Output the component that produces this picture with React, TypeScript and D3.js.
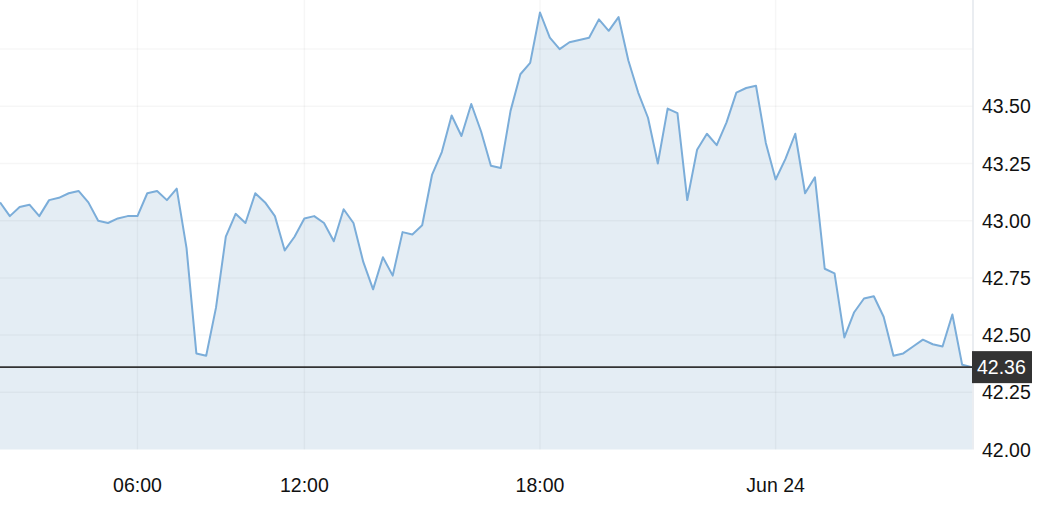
import React from "react";
import * as d3 from "d3";

const prices: number[] = [
  43.08, 43.02, 43.06, 43.07, 43.02, 43.09, 43.1, 43.12, 43.13, 43.08,
  43.0, 42.99, 43.01, 43.02, 43.02, 43.12, 43.13, 43.09, 43.14, 42.88,
  42.42, 42.41, 42.62, 42.93, 43.03, 42.99, 43.12, 43.08, 43.02, 42.87,
  42.93, 43.01, 43.02, 42.99, 42.91, 43.05, 42.99, 42.82, 42.7, 42.84,
  42.76, 42.95, 42.94, 42.98, 43.2, 43.3, 43.46, 43.37, 43.51, 43.39,
  43.24, 43.23, 43.48, 43.64, 43.69, 43.91, 43.8, 43.75, 43.78, 43.79,
  43.8, 43.88, 43.83, 43.89, 43.7, 43.56, 43.45, 43.25, 43.49, 43.47,
  43.09, 43.31, 43.38, 43.33, 43.43, 43.56, 43.58, 43.59, 43.34, 43.18,
  43.27, 43.38, 43.12, 43.19, 42.79, 42.77, 42.49, 42.6, 42.66, 42.67,
  42.58, 42.41, 42.42, 42.45, 42.48, 42.46, 42.45, 42.59, 42.37, 42.36,
];

const timeTickIndex: number[] = [14, 31, 55, 79];
const timeTickLabels: string[] = ["06:00", "12:00", "18:00", "Jun 24"];
const priceTicks: number[] = [42.0, 42.25, 42.5, 42.75, 43.0, 43.25, 43.5];
const gridPrices: number[] = [42.25, 42.5, 42.75, 43.0, 43.25, 43.5, 43.75];
const lastPrice = 42.36;

const W = 1058;
const H = 514;
const plotRight = 973;
const plotBottom = 449.5;

export default function App() {
  const x = d3.scaleLinear().domain([0, prices.length - 1]).range([0, 972]);
  const y = d3.scaleLinear().domain([42, 44]).range([plotBottom, plotBottom - 457.6]);

  const line = d3
    .line<number>()
    .x((_, i) => x(i))
    .y((d) => y(d));
  const area = d3
    .area<number>()
    .x((_, i) => x(i))
    .y0(plotBottom)
    .y1((d) => y(d));

  const font = "'Liberation Sans', Arial, Helvetica, sans-serif";

  return (
    <svg
      width={W}
      height={H}
      style={{ position: "absolute", left: 0, top: 0, background: "#fff" }}
    >
      <path d={area(prices) || ""} fill="#e4edf4" />
      {gridPrices.map((p) => (
        <line
          key={"h" + p}
          x1={0}
          x2={plotRight}
          y1={y(p)}
          y2={y(p)}
          stroke="rgba(0,0,0,0.035)"
          strokeWidth={1.5}
        />
      ))}
      {timeTickIndex.map((t) => (
        <line
          key={"v" + t}
          x1={x(t)}
          x2={x(t)}
          y1={0}
          y2={plotBottom}
          stroke="rgba(0,0,0,0.035)"
          strokeWidth={1.5}
        />
      ))}
      <path
        d={line(prices) || ""}
        fill="none"
        stroke="#7badd9"
        strokeWidth={2}
        strokeLinejoin="round"
      />
      <line
        x1={plotRight}
        x2={plotRight}
        y1={0}
        y2={plotBottom}
        stroke="#e3e7ed"
        strokeWidth={1.5}
      />
      <line
        x1={0}
        x2={plotRight}
        y1={y(lastPrice)}
        y2={y(lastPrice)}
        stroke="#333"
        strokeWidth={1.6}
      />
      {priceTicks.map((p) => (
        <text
          key={"t" + p}
          x={982}
          y={y(p)}
          dy="0.36em"
          fontFamily={font}
          fontSize={19.5}
          fill="#111"
        >
          {p.toFixed(2)}
        </text>
      ))}
      {timeTickIndex.map((t, i) => (
        <text
          key={"x" + t}
          x={x(t)}
          y={492}
          textAnchor="middle"
          fontFamily={font}
          fontSize={19.5}
          fill="#111"
        >
          {timeTickLabels[i]}
        </text>
      ))}
      <rect
        x={972}
        y={y(lastPrice) - 16}
        width={60}
        height={32}
        fill="#333"
      />
      <text
        x={977}
        y={y(lastPrice)}
        dy="0.36em"
        fontFamily={font}
        fontSize={19.5}
        fill="#fff"
      >
        {lastPrice.toFixed(2)}
      </text>
    </svg>
  );
}
